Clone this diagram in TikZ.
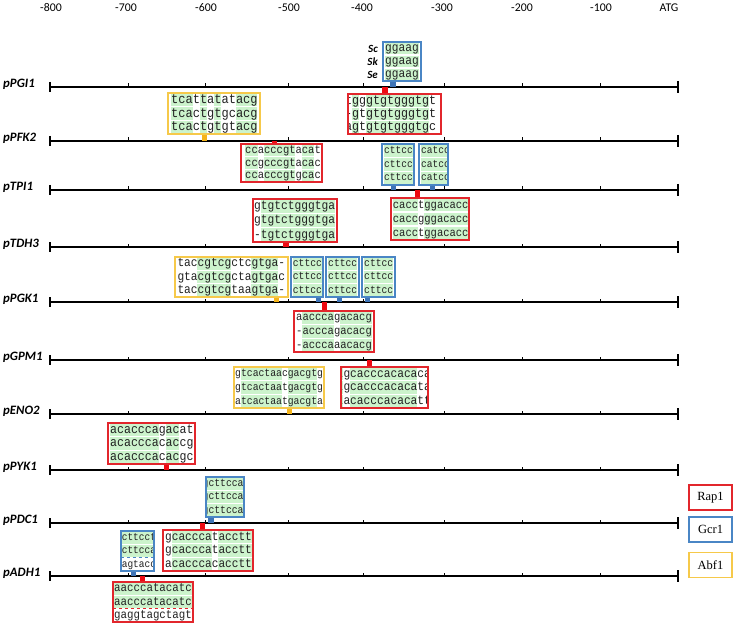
\documentclass[tikz,border=0pt]{standalone}
\usepackage{fontspec}
\usepackage{graphicx}
\setmainfont{Liberation Serif}
\newfontfamily\carl{Carlito}
\newfontfamily\seqmono{Liberation Mono}
\definecolor{bxred}{HTML}{E2262C}
\definecolor{bxblue}{HTML}{4A86C5}
\definecolor{bxyellow}{HTML}{F6C94A}
\definecolor{mkred}{HTML}{EE0A12}
\definecolor{mkblue}{HTML}{3E74B6}
\definecolor{mkyellow}{HTML}{F4B41A}
\definecolor{seqgreen}{HTML}{CCF3CC}
\definecolor{seqink}{HTML}{222222}
\tikzset{
  pline/.style={line width=1.1,black},
  ptick/.style={line width=0.8,black},
  promlabel/.style={anchor=west,inner sep=0,font=\carl\fontsize{12.8bp}{12.8bp}\selectfont\bfseries\itshape},
  axlab/.style={inner sep=0,font=\carl\fontsize{11.8bp}{11.8bp}\selectfont},
  speclab/.style={anchor=east,inner sep=0,font=\carl\fontsize{11bp}{11bp}\selectfont\bfseries\itshape},
  seqtext/.style={anchor=west,inner sep=0,text=seqink},
  legbox/.style={draw,line width=1.1,minimum width=43bp,minimum height=25bp,inner sep=0,font=\fontsize{12.5bp}{12.5bp}\selectfont}
}
\newcommand\promline[3]{%
  \node[promlabel] (#1) at (3,{#2-3}) {#3};
  \draw[pline] (50,#2) -- (678,#2);
  \draw[pline] (50,{#2-5}) -- (50,{#2+5});
  \draw[pline] (678,{#2-6}) -- (678,{#2+6});
  \foreach \tx in {128,205,288,363,444,522,600}{\draw[ptick] (\tx,#2) -- (\tx,{#2-3.5});}
}
\newcommand\mk[4]{\fill[#1] ({#2-2.8},#3) rectangle ({#2+2.8},#4);}
\newcommand\seqbx[9]{\def\sbN{#1}\def\sbL{#2}\def\sbT{#3}\def\sbR{#4}\def\sbB{#5}\def\sbC{#6}\def\sbW{#7}\def\sbX{#8}\def\sbG{#9}\seqbxdo}
\newcommand\seqbxdo[1]{%
  \pgfmathsetmacro\sbH{(\sbB-\sbT)/3}%
  \pgfmathsetmacro\sbF{\sbW/0.6}%
  \begin{scope}
    \clip (\sbL,\sbT) rectangle (\sbR,\sbB);
    \foreach \ra/\rb/\ca/\cb in \sbG {%
      \foreach \rr in {\ra,...,\rb}{%
        \fill[seqgreen] ({\sbX+(\ca-1)*\sbW},{\sbT+(\rr-1)*\sbH+0.8}) rectangle ({\sbX+\cb*\sbW},{\sbT+\rr*\sbH-0.8});
      }%
    }%
    \foreach \s [count=\i] in {#1}{%
      \node[seqtext,font=\seqmono\fontsize{\sbF bp}{\sbF bp}\selectfont] (\sbN-\i) at (\sbX,{\sbT+(\i-0.5)*\sbH}) {\scalebox{1}[1.12]{\vphantom{x}\smash{\s}}};
    }%
  \end{scope}
  \draw[\sbC,line width=1.3] (\sbL,\sbT) rectangle (\sbR,\sbB);
}
\begin{document}
\begin{tikzpicture}[x=1bp,y=-1bp]
\useasboundingbox (0,0) rectangle (735,627);
% axis labels
\foreach \v/\xx/\nm in {-800/51/a8,-700/126/a7,-600/206/a6,-500/289/a5,-400/362/a4,-300/442/a3,-200/522/a2,-100/601/a1,ATG/669/a0}{
  \node[axlab] (\nm) at (\xx,8) {\v};
}
% promoter lines
\promline{pgi}{87}{pPGI1}
\promline{pfk}{141}{pPFK2}
\promline{tpi}{190}{pTPI1}
\promline{tdh}{247}{pTDH3}
\promline{pgk}{302}{pPGK1}
\promline{gpm}{360}{pGPM1}
\promline{eno}{414}{pENO2}
\promline{pyk}{470}{pPYK1}
\promline{pdc}{523}{pPDC1}
\promline{adh}{576}{pADH1}
% species labels
\node[speclab] (sc) at (378,48.5) {Sc};
\node[speclab] (sk) at (378,61.5) {Sk};
\node[speclab] (se) at (378,74.5) {Se};
% pPGI1
\mk{mkblue}{393}{81}{87}
\seqbx{A}{383}{42}{421}{81}{bxblue}{6.7}{385}{1/3/1/5}{ggaag,ggaag,ggaag}
\mk{mkred}{385}{87}{94}
\seqbx{B}{348}{94}{441}{134}{bxred}{7.0}{345}{1/3/2/2,1/3/4/12}{tgggtgtgggtgt,-gtgtgtgggtgt,agtgtgtgggtgc}
% pPFK2
\mk{mkyellow}{204.5}{134}{141}
\seqbx{C}{168}{93}{260}{134}{bxyellow}{7.2}{171}{1/3/1/3,1/3/5/5,1/3/7/7,1/3/10/12}{tcattatatacg,tcactgtgcacg,tcactgtgtacg}
\mk{mkred}{274.5}{141}{144}
\seqbx{D}{241}{144}{322}{182}{bxred}{6.3}{245}{1/3/1/2,1/3/4/8,1/3/10/11}{ccacccgtacat,ccgcccgtacac,ccacccgtgcac}
% pTPI1
\mk{mkblue}{393.5}{185}{190}
\seqbx{E}{382}{144}{414}{185}{bxblue}{5.7}{384}{1/3/1/5}{cttcc,cttcc,cttcc}
\mk{mkblue}{432.5}{185}{190}
\seqbx{F}{419}{144}{448}{185}{bxblue}{5.7}{421}{1/3/1/6}{catccc,catccc,catccc}
\mk{mkred}{417.5}{190}{198}
\seqbx{G}{391}{198}{469}{240}{bxred}{6.3}{392.7}{1/3/1/4,1/3/6/12}{cacctggacacc,caccgggacacc,cacctggacacc}
% pTDH3
\mk{mkred}{286}{242}{247}
\seqbx{H}{253}{199}{337}{242}{bxred}{6.75}{254}{1/3/2/12}{gtgtctgggtga,gtgtctgggtga,-tgtctgggtga}
% pPGK1
\mk{mkyellow}{276.5}{297}{302}
\seqbx{I}{175}{257}{288}{297}{bxyellow}{6.73}{177.3}{1/3/4/8,1/3/12/15}{taccgtcgctcgtga-,gtacgtcgctagtgac,taccgtcgtaagtga-}
\mk{mkblue}{318.5}{297}{302}
\seqbx{J}{291}{257}{323}{297}{bxblue}{5.8}{292.7}{1/3/1/5}{cttcc,cttcc,cttcc}
\mk{mkblue}{339.5}{297}{302}
\seqbx{K}{326}{257}{359}{297}{bxblue}{5.8}{328}{1/3/1/5}{cttcc,cttcc,cttcc}
\mk{mkblue}{367.5}{297}{302}
\seqbx{L}{362}{257}{395}{297}{bxblue}{5.8}{364}{1/3/1/5}{cttcc,cttcc,cttcc}
\mk{mkred}{324.5}{302}{311}
\seqbx{M}{294}{311}{374}{352}{bxred}{6.3}{296}{1/3/2/6,1/3/8/12}{aacccagacacg,-acccagacacg,-acccaaacacg}
% pGPM1
\mk{mkred}{369.5}{360}{367}
\seqbx{N}{341}{367}{428}{408}{bxred}{6.72}{336.6}{1/3/1/1,1/3/3/12}{tgcacccacacaca,tgcacccacacata,tacacccacacatt}
% pENO2
\mk{mkyellow}{289.5}{408}{414}
\seqbx{O}{234}{367}{324}{408}{bxyellow}{5.85}{235}{1/3/2/8,1/3/10/14}{gtcactaacgacgtg,gtcactaatgacgtg,atcactaatgacgta}
% pPYK1
\mk{mkred}{166.5}{464}{470}
\seqbx{P}{108}{423}{195}{464}{bxred}{6.94}{110}{1/3/1/7,1/3/9/10}{acacccagacat,acacccacaccg,acacccacacgc}
% pPDC1
\mk{mkblue}{211}{517}{523}
\seqbx{Q}{206}{477}{244}{517}{bxblue}{5.83}{202.5}{1/3/1/7}{gcttcca,gcttcca,gcttcca}
\mk{mkred}{202.5}{523}{530}
\seqbx{R}{163}{530}{253}{571}{bxred}{6.67}{165}{1/3/2/7,1/3/9/13}{gcacccatacctt,gcacccatacctt,acacccacacctt}
% pADH1
\mk{mkblue}{133.5}{571}{576}
\seqbx{S}{121}{531}{154}{571}{bxblue}{5.67}{121.7}{1/2/1/6}{cttcct,cttcca,agtacc}
\draw[bxblue,dashed,line width=0.9] (121,557) -- (154,557);
\mk{mkred}{142.5}{576}{582}
\seqbx{T}{113}{582}{193}{622}{bxred}{6.47}{114}{1/2/1/12}{aacccatacatc,aacccatacatc,gaggtagctagt}
\draw[bxred,dashed,line width=0.9] (113,608.5) -- (193,608.5);
% legend
\node[legbox,draw=bxred] (lgrap) at (710.5,497.5) {Rap1};
\node[legbox,draw=bxblue] (lggcr) at (710.5,529.5) {Gcr1};
\node[legbox,draw=bxyellow] (lgabf) at (710.5,565) {Abf1};
\end{tikzpicture}
\end{document}
